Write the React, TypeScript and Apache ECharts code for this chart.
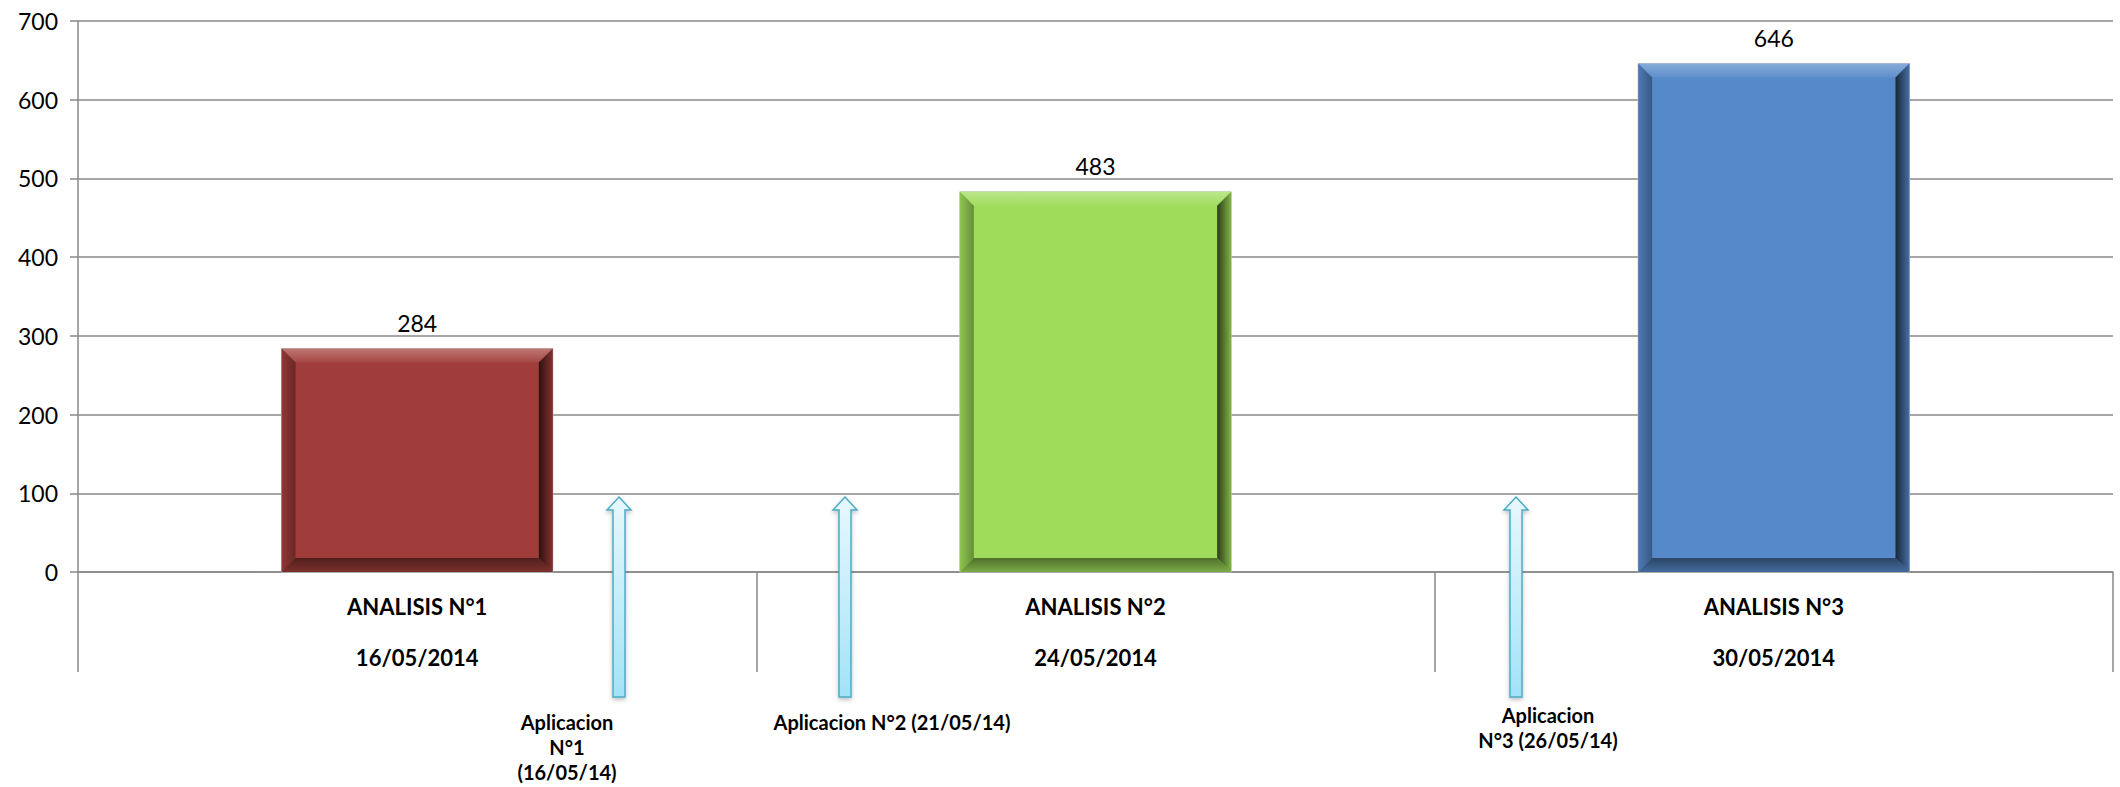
import React, { useEffect, useRef } from 'react';
import * as echarts from 'echarts';

// Sample analyses (category axis, two-level labels)
const categories = ['ANALISIS N°1', 'ANALISIS N°2', 'ANALISIS N°3'];
const sampleDates = ['16/05/2014', '24/05/2014', '30/05/2014'];
// Measured values per analysis
const values = [284, 483, 646];
const barColors = ['#A03D3A', '#9DDB58', '#5589C9'];
// Application notes shown under the axis
const applicationNotes = [
  'Aplicacion\nN°1\n(16/05/14)',
  'Aplicacion N°2 (21/05/14)',
  'Aplicacion\nN°3 (26/05/14)',
];
const yMin = 0;
const yMax = 700;
const yStep = 100;

const FONT = 'Lato, "Noto Sans", sans-serif';
const GRID_GRAY = '#888888';

function mix(hex: string, target: number, t: number) {
  const n = parseInt(hex.slice(1), 16);
  const r = (n >> 16) & 255;
  const g = (n >> 8) & 255;
  const b = n & 255;
  const f = (c: number) => Math.round(c + (target - c) * t);
  return `rgb(${f(r)},${f(g)},${f(b)})`;
}
const lighten = (h: string, t: number) => mix(h, 255, t);
const darken = (h: string, t: number) => mix(h, 0, t);

function grad(x: number, y: number, x2: number, y2: number, c0: string, c1: string) {
  return new echarts.graphic.LinearGradient(x, y, x2, y2, [
    { offset: 0, color: c0 },
    { offset: 1, color: c1 },
  ]);
}

// Upward arrow polygon centred on cx
function arrow(cx: number, top: number, bottom: number) {
  const sw = 6;
  const hw = 12;
  const hh = 13;
  return {
    type: 'polygon',
    shape: {
      points: [
        [cx, top],
        [cx + hw, top + hh],
        [cx + sw, top + hh],
        [cx + sw, bottom],
        [cx - sw, bottom],
        [cx - sw, top + hh],
        [cx - hw, top + hh],
      ],
    },
    style: {
      fill: grad(0, 0, 0, 1, '#E8F8FD', '#A2E3F7'),
      stroke: '#4BACC6',
      lineWidth: 1.5,
      shadowBlur: 4,
      shadowOffsetY: 2,
      shadowColor: 'rgba(0,0,0,0.25)',
    },
    z: 10,
  };
}

function noteText(text: string, x: number, y: number) {
  return {
    type: 'text',
    x,
    y,
    style: {
      text,
      align: 'center',
      verticalAlign: 'middle',
      font: `bold 20px ${FONT}`,
      lineHeight: 25,
      fill: '#000',
    },
    z: 10,
  };
}

export default function App() {
  const ref = useRef<HTMLDivElement>(null);

  useEffect(() => {
    if (!ref.current) return;
    const chart = echarts.init(ref.current, undefined, { renderer: 'svg' });

    const option = {
      animation: false,
      backgroundColor: '#ffffff',
      grid: { left: 78, right: 7, top: 21, bottom: 215, containLabel: false },
      xAxis: {
        type: 'category',
        data: categories,
        boundaryGap: true,
        axisLine: { show: true, lineStyle: { color: GRID_GRAY, width: 1.5 } },
        axisTick: { show: true, length: 100, lineStyle: { color: GRID_GRAY, width: 1.5 } },
        axisLabel: {
          margin: 9,
          color: '#000',
          fontFamily: FONT,
          fontWeight: 'bold',
          fontSize: 22,
          lineHeight: 51,
          formatter: (v: string, i: number) => `${v}\n${sampleDates[i]}`,
        },
        splitLine: { show: false },
      },
      yAxis: {
        type: 'value',
        min: yMin,
        max: yMax,
        interval: yStep,
        axisLine: { show: true, lineStyle: { color: GRID_GRAY, width: 1.5 } },
        axisTick: { show: true, length: 8, lineStyle: { color: GRID_GRAY, width: 1.5 } },
        axisLabel: { margin: 20, color: '#000', fontFamily: FONT, fontSize: 23 },
        splitLine: { show: true, lineStyle: { color: GRID_GRAY, width: 1.5 } },
      },
      series: [
        {
          type: 'custom',
          data: values.map((v, i) => [i, v]),
          encode: { x: 0, y: 1 },
          z: 5,
          renderItem: (params: any, api: any) => {
            const base = barColors[params.dataIndex];
            const value = api.value(1);
            const top = api.coord([api.value(0), value]);
            const bottom = api.coord([api.value(0), 0]);
            const bw = api.size([1, 0])[0] * 0.4;
            const x0 = top[0] - bw / 2;
            const x1 = top[0] + bw / 2;
            const yT = top[1];
            const yB = bottom[1];
            const b = 14;
            return {
              type: 'group',
              children: [
                {
                  type: 'rect',
                  shape: { x: x0, y: yT, width: bw, height: yB - yT },
                  style: { fill: base, stroke: '#c4c4c4', lineWidth: 1 },
                },
                {
                  type: 'polygon',
                  shape: { points: [[x0, yT], [x1, yT], [x1 - b, yT + b], [x0 + b, yT + b]] },
                  style: { fill: grad(0, 0, 0, 1, lighten(base, 0.3), lighten(base, 0.05)) },
                },
                {
                  type: 'polygon',
                  shape: { points: [[x0, yT], [x0 + b, yT + b], [x0 + b, yB - b], [x0, yB]] },
                  style: { fill: grad(0, 0, 1, 0, darken(base, 0.1), darken(base, 0.35)) },
                },
                {
                  type: 'polygon',
                  shape: { points: [[x1, yT], [x1, yB], [x1 - b, yB - b], [x1 - b, yT + b]] },
                  style: { fill: grad(0, 0, 1, 0, darken(base, 0.72), darken(base, 0.18)) },
                },
                {
                  type: 'polygon',
                  shape: { points: [[x0, yB], [x0 + b, yB - b], [x1 - b, yB - b], [x1, yB]] },
                  style: { fill: grad(0, 0, 0, 1, darken(base, 0.5), darken(base, 0.22)) },
                },
                {
                  type: 'text',
                  style: {
                    text: String(value),
                    x: top[0],
                    y: yT - 14,
                    align: 'center',
                    verticalAlign: 'bottom',
                    font: `23px ${FONT}`,
                    fill: '#000',
                  },
                },
              ],
            };
          },
        },
      ],
      graphic: [
        arrow(619, 497, 697),
        arrow(845, 497, 697),
        arrow(1516, 497, 697),
        noteText(applicationNotes[0], 567, 747),
        noteText(applicationNotes[1], 892, 722),
        noteText(applicationNotes[2], 1548, 727),
      ],
    };

    chart.setOption(option as any);
    return () => chart.dispose();
  }, []);

  return (
    <div
      ref={ref}
      style={{ position: 'absolute', left: 0, top: 0, width: 2120, height: 787, background: '#fff' }}
    />
  );
}
